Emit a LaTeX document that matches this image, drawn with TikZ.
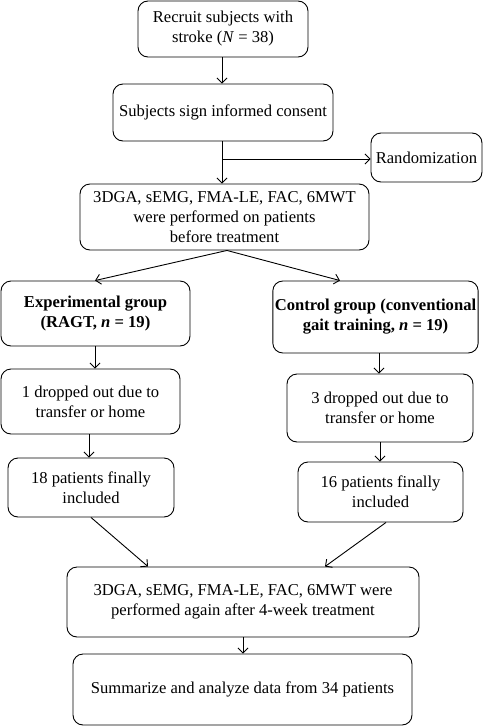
\documentclass[tikz,border=0pt]{standalone}
\usepackage{fontspec}
\setmainfont{Liberation Serif}
\usetikzlibrary{arrows.meta}
\begin{document}
\begin{tikzpicture}[x=1pt,y=-1pt,
  box/.style={draw, rounded corners=10pt, line width=0.9pt, align=center, inner sep=2pt,
     font=\fontsize{16.6}{20}\selectfont},
  arr/.style={line width=0.9pt, -{Straight Barb[length=5pt,width=10pt,line width=0.9pt]}},
  ln/.style={line width=0.9pt}]
\useasboundingbox (0,0) rectangle (483,726);
\node[box, minimum width=170pt, minimum height=56pt] (b1) at (223,29) {Recruit subjects with\\ stroke (\textit{N} = 38)};
\node[box, minimum width=220pt, minimum height=57pt] (b2) at (223,112.5) {Subjects sign informed consent};
\node[box, minimum width=111pt, minimum height=49pt, inner sep=1pt] (rand) at (426.5,157.5) {Randomization};
\node[box, minimum width=289pt, minimum height=66pt] (b3) at (224.5,217) {3DGA, sEMG, FMA-LE, FAC, 6MWT\\ were performed on patients\\ before treatment};
\node[box, minimum width=189pt, minimum height=65pt, font=\fontsize{16.6}{20}\selectfont\bfseries] (exp) at (95.5,313.5) {Experimental group\\ (RAGT, \textit{n} = 19)};
\node[box, minimum width=205pt, minimum height=72pt, font=\fontsize{16.6}{20}\selectfont\bfseries] (ctl) at (375.5,317) {Control group (conventional\\ gait training, \textit{n} = 19)};
\node[box, minimum width=179pt, minimum height=65pt] (expd) at (90.5,401.5) {1 dropped out due to\\ transfer or home};
\node[box, minimum width=186pt, minimum height=68pt] (ctld) at (380,408) {3 dropped out due to\\ transfer or home};
\node[box, minimum width=166pt, minimum height=59pt] (exp18) at (91,487.5) {18 patients finally\\ included};
\node[box, minimum width=165pt, minimum height=60pt] (ctl16) at (380.5,492) {16 patients finally\\ included};
\node[box, minimum width=352pt, minimum height=70pt] (f1) at (243,602) {3DGA, sEMG, FMA-LE, FAC, 6MWT were\\ performed again after 4-week treatment};
\node[box, minimum width=339pt, minimum height=71pt] (f2) at (242.5,689.5) {Summarize and analyze data from 34 patients};
\coordinate (br) at (222,159);
\draw[arr] ([xshift=-1pt]b1.south) -- ([xshift=-1pt]b1.south |- b2.north);
\draw[arr] ([xshift=-1pt]b2.south) -- ([xshift=-1pt]b2.south |- b3.north);
\draw[arr] (br) -- (br -| rand.west);
\draw[arr] ([xshift=2.5pt]b3.south) -- ([xshift=-35.5pt]ctl.north);
\draw[arr] ([xshift=2.5pt]b3.south) -- ([xshift=-0.5pt]exp.north);
\draw[arr] ([xshift=-0.5pt]exp.south) -- ([xshift=-0.5pt]exp.south |- expd.north);
\draw[arr] ([xshift=-1.5pt]expd.south) -- ([xshift=-1.5pt]expd.south |- exp18.north);
\draw[arr] ([xshift=3.5pt]ctl.south) -- ([xshift=3.5pt]ctl.south |- ctld.north);
\draw[arr] (ctld.south) -- (ctld.south |- ctl16.north);
\draw[arr] (exp18.south) -- ([xshift=-95pt]f1.north);
\draw[arr] ([xshift=5.5pt]ctl16.south) -- ([xshift=82pt]f1.north);
\draw[arr] (f1.south) -- (f1.south |- f2.north);
\end{tikzpicture}
\end{document}
